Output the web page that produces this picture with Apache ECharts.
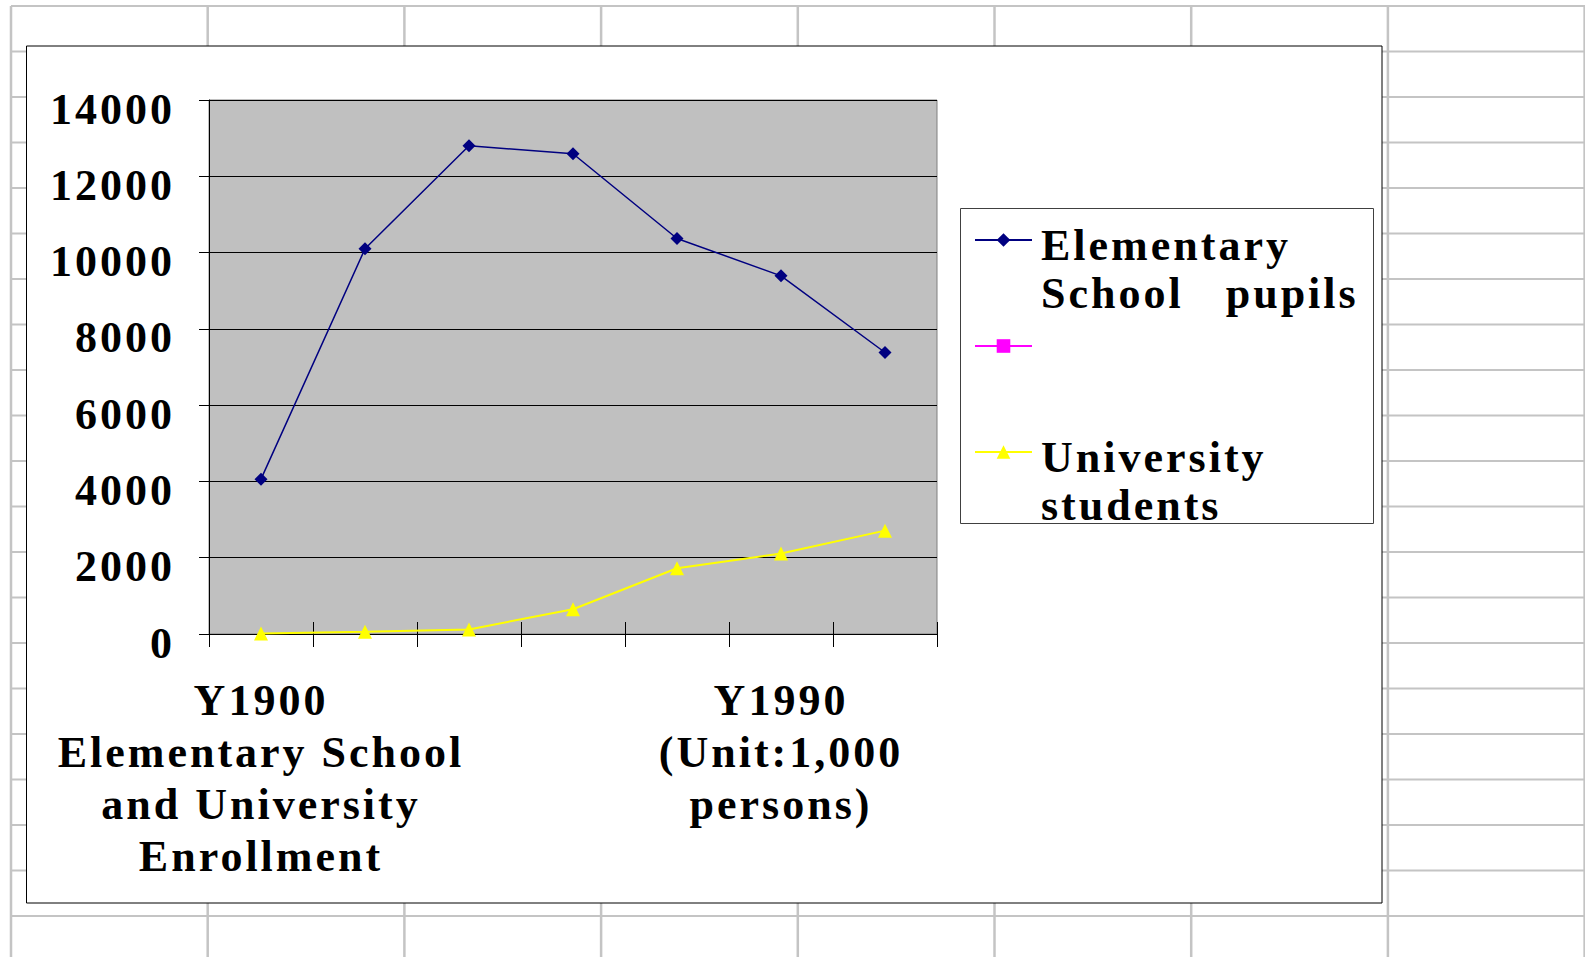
<!DOCTYPE html>
<html>
<head>
<meta charset="utf-8">
<script src="https://cdn.jsdelivr.net/npm/echarts@6/dist/echarts.min.js"></script>
<style>
  html, body { margin: 0; padding: 0; background: #ffffff; }
  #chart { width: 1585px; height: 957px; }
  /* wide-tracked lettering for every label of the chart */
  #chart text { letter-spacing: 3px; }
</style>
</head>
<body>
<div id="chart"></div>
<script>
// Category labels (only the first and sixth carry text)
const categories = [
  'Y1900\nElementary School\nand University\nEnrollment',
  '', '', '', '',
  'Y1990\n(Unit:1,000\npersons)',
  ''
];

// Enrollment, thousands of persons
const elementaryPupils = [4060, 10100, 12800, 12590, 10370, 9390, 7380];
const unnamedSeries = [null, null, null, null, null, null, null];
const universityStudents = [10, 60, 120, 650, 1725, 2110, 2710];

const seriesNames = ['Elementary School pupils', 'Series2', 'University students'];
const legendLabels = ['Elementary\nSchool\u00a0\u00a0\u00a0pupils', '', 'University\nstudents'];

// Value axis range
const yMin = 0;
const yMax = 14000;
const yStep = 2000;

const FONT = 'Liberation Serif';
const labelFont = { fontFamily: FONT, fontSize: 44, fontWeight: 'bold', color: '#000000' };

// Worksheet cell grid drawn behind the chart object
const sheetLines = [];
for (let k = 0; k <= 8; k++) {
  const x = 11 + k * 196.7;
  sheetLines.push({ type: 'line', z: -10, silent: true,
    shape: { x1: x, y1: 6, x2: x, y2: 957 },
    style: { stroke: '#c4c4c4', lineWidth: 2.5 } });
}
for (let k = 0; k <= 20; k++) {
  const y = 6 + k * 45.5;
  sheetLines.push({ type: 'line', z: -10, silent: true,
    shape: { x1: 11, y1: y, x2: 1585, y2: y },
    style: { stroke: '#c4c4c4', lineWidth: 2 } });
}

const chart = echarts.init(document.getElementById('chart'), null, { renderer: 'svg' });

chart.setOption({
  animation: false,
  backgroundColor: '#ffffff',
  graphic: [
    ...sheetLines,
    // chart object frame
    { type: 'rect', z: -9, silent: true,
      shape: { x: 26.5, y: 46, width: 1355.5, height: 857 },
      style: { fill: '#ffffff', stroke: '#000000', lineWidth: 1 } },
    // legend frame
    { type: 'rect', z: 3, silent: true,
      shape: { x: 960.5, y: 208.5, width: 413, height: 315 },
      style: { fill: '#ffffff', stroke: '#404040', lineWidth: 1 } }
  ],
  grid: [
    { left: 209, top: 100, width: 728, height: 534, show: true,
      backgroundColor: '#c0c0c0', borderColor: '#808080', borderWidth: 1 },
    { left: 209, top: 100, width: 728, height: 534, show: false }
  ],
  xAxis: [
    { type: 'category', gridIndex: 0, data: categories, boundaryGap: true,
      axisLine: { show: true, lineStyle: { color: '#000000', width: 1 } },
      axisTick: { show: true, interval: 0, length: 13, lineStyle: { color: '#000000', width: 1 } },
      axisLabel: Object.assign({ interval: 0, margin: 40, lineHeight: 52, align: 'center' }, labelFont),
      splitLine: { show: false } },
    // upper half of the crossing tick marks
    { type: 'category', gridIndex: 1, data: categories, boundaryGap: true,
      axisLine: { show: false },
      axisTick: { show: true, inside: true, interval: 0, length: 12, lineStyle: { color: '#000000', width: 1 } },
      axisLabel: { show: false },
      splitLine: { show: false } }
  ],
  yAxis: [
    { type: 'value', gridIndex: 0, min: yMin, max: yMax, interval: yStep,
      axisLine: { show: true, lineStyle: { color: '#000000', width: 1 } },
      axisTick: { show: true, length: 10, lineStyle: { color: '#000000', width: 1 } },
      splitLine: { show: true, lineStyle: { color: '#000000', width: 1 } },
      axisLabel: Object.assign({
        margin: 34, verticalAlign: 'top', lineHeight: 18,
        formatter: function (v) { return String(v); }
      }, labelFont) },
    { type: 'value', gridIndex: 1, min: yMin, max: yMax, interval: yStep, show: false }
  ],
  legend: {
    orient: 'vertical',
    left: 974,
    top: 170,
    padding: 0,
    itemGap: -39,
    itemWidth: 57,
    itemHeight: 17,
    selectedMode: false,
    data: seriesNames,
    // three text rows per entry: a spacer row, then two label rows
    formatter: function (name) {
      const rows = legendLabels[seriesNames.indexOf(name)].split('\n');
      while (rows.length < 2) rows.push('');
      return '{gap|\u00a0}\n' + rows.map(function (r) { return '{row|' + (r || '\u00a0') + '}'; }).join('\n');
    },
    textStyle: Object.assign({
      padding: [0, 0, 0, 4],
      rich: {
        gap: Object.assign({ lineHeight: 58 }, labelFont),
        row: Object.assign({ lineHeight: 48 }, labelFont)
      }
    }, labelFont)
  },
  series: [
    { name: seriesNames[0], type: 'line', xAxisIndex: 0, yAxisIndex: 0,
      data: elementaryPupils, color: '#000080',
      symbol: 'diamond', symbolSize: 13,
      lineStyle: { color: '#000080', width: 1.5 },
      itemStyle: { color: '#000080' } },
    { name: seriesNames[1], type: 'line', xAxisIndex: 0, yAxisIndex: 0,
      data: unnamedSeries, color: '#ff00ff',
      symbol: 'rect', symbolSize: 10,
      lineStyle: { color: '#ff00ff', width: 1.5 },
      itemStyle: { color: '#ff00ff' } },
    { name: seriesNames[2], type: 'line', xAxisIndex: 0, yAxisIndex: 0,
      data: universityStudents, color: '#ffff00',
      symbol: 'triangle', symbolSize: 14,
      lineStyle: { color: '#ffff00', width: 2 },
      itemStyle: { color: '#ffff00' } }
  ]
});
</script>
</body>
</html>
